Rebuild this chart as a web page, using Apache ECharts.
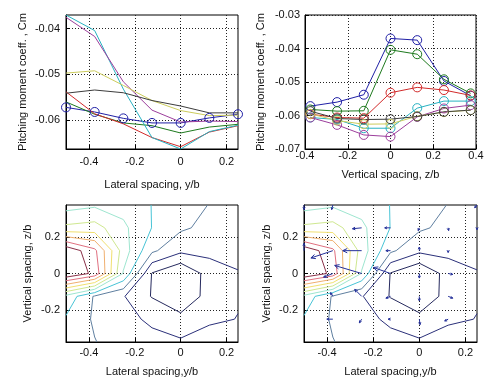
<!DOCTYPE html>
<html>
<head>
<meta charset="utf-8">
<script src="https://cdn.jsdelivr.net/npm/echarts@6/dist/echarts.min.js"></script>
<style>
  html, body { margin: 0; padding: 0; background: #fff; }
  #chart { width: 485px; height: 378px; }
</style>
</head>
<body>
<div id="chart"></div>
<script>
// measurement grid
const lateral = [-0.5, -0.375, -0.25, -0.125, 0, 0.125, 0.25];   // y/b
const vertical = [-0.375, -0.25, -0.125, 0, 0.125, 0.25, 0.375]; // z/b

// Cm at each lateral station, one value per vertical station
const cmYm500 = [-0.0572, -0.0560, -0.0538, -0.0370, -0.0375, -0.0497, -0.0541];
const cmYm375 = [-0.0582, -0.0587, -0.0586, -0.0404, -0.0417, -0.0492, -0.0534];
const cmYm250 = [-0.0596, -0.0606, -0.0608, -0.0532, -0.0516, -0.0524, -0.0540];
const cmYm125 = [-0.0606, -0.0612, -0.0638, -0.0638, -0.0578, -0.0557, -0.0557];
const cmY000 = [-0.0606, -0.0628, -0.0658, -0.0663, -0.0604, -0.0579, -0.0569];
const cmYp125 = [-0.0595, -0.0615, -0.0626, -0.0625, -0.0602, -0.0590, -0.0584];
const cmYp250 = [-0.0587, -0.0609, -0.0612, -0.0611, -0.0603, -0.0589, -0.0584];
const cmGrid = [cmYm500, cmYm375, cmYm250, cmYm125, cmY000, cmYp125, cmYp250];

// quiver: [y, z, dy, dz]
const quiverVectors = [
  [-0.5, 0.375, 0, -0.025], [-0.375, 0.375, -0.005, -0.025],
  [-0.5, 0.125, 0, 0.04], [-0.375, 0.125, -0.095, -0.04],
  [-0.25, 0.25, -0.04, -0.005], [-0.25, 0.125, -0.082, 0],
  [-0.375, 0, -0.04, -0.02], [-0.25, 0, -0.117, 0.044],
  [-0.125, 0, -0.074, 0.033], [-0.25, -0.125, -0.03, 0.038],
  [-0.375, -0.125, -0.01, 0.02], [-0.375, -0.25, -0.026, 0],
  [-0.25, -0.25, -0.01, -0.02], [-0.125, 0.25, -0.025, 0],
  [-0.125, 0.125, -0.02, 0], [-0.125, -0.125, -0.02, -0.01],
  [-0.125, -0.25, -0.01, 0], [0, 0.25, -0.005, -0.015],
  [0, 0.125, 0, 0.02], [0, 0, 0, -0.025],
  [0, -0.125, 0, -0.025], [0, -0.25, 0.003, -0.03],
  [0.125, 0.25, 0.002, -0.015], [0.125, 0.125, 0, -0.01],
  [0.125, 0, 0.02, -0.005], [0.125, -0.125, 0.02, -0.01],
  [0.125, -0.25, -0.015, -0.01], [0.25, 0.375, -0.01, -0.015],
  [0.25, 0.25, 0, -0.01]
];

const lineColors = ['#2020a6', '#1e7a1e', '#d22a2a', '#28b2c2', '#9c3e9c', '#cccc5c', '#3c3c3c'];
const contourColors = ['#262a5e', '#2b307a', '#5f7fa0', '#48c4d6', '#9ee6d0',
                       '#cfe890', '#f2e070', '#f0b070', '#e07080', '#8a3048'];
const arrowColor = '#24309a';

const latTicks = [-0.4, -0.2, 0, 0.2];
const vertTicksTop = [-0.4, -0.2, 0, 0.2, 0.4];
const vertTicksBottom = [-0.2, 0, 0.2];
const cmTicksLeft = [-0.06, -0.05, -0.04];
const cmTicksRight = [-0.07, -0.06, -0.05, -0.04, -0.03];

const FONT = 'Liberation Sans, Arial, sans-serif';
const allCm = cmGrid.flat();
const cmMin = Math.min(...allCm);
const cmMax = Math.max(...allCm);
// matlab default: 10 levels spread between min and max
const levels = contourColors.map((_, k) => cmMin + (k + 1) * (cmMax - cmMin) / 11);

function contourSegments(level) {
  const segs = [];
  for (let i = 0; i < lateral.length - 1; i++) {
    for (let j = 0; j < vertical.length - 1; j++) {
      const corners = [[i, j], [i + 1, j], [i + 1, j + 1], [i, j + 1]];
      const vals = corners.map(([a, b]) => cmGrid[a][b]);
      const pts = [];
      for (let e = 0; e < 4; e++) {
        const p = corners[e], q = corners[(e + 1) % 4];
        const vp = vals[e], vq = vals[(e + 1) % 4];
        if ((vp > level) !== (vq > level)) {
          const t = (level - vp) / (vq - vp);
          pts.push([
            lateral[p[0]] + t * (lateral[q[0]] - lateral[p[0]]),
            vertical[p[1]] + t * (vertical[q[1]] - vertical[p[1]])
          ]);
        }
      }
      if (pts.length === 2) {
        segs.push([pts[0], pts[1]]);
      } else if (pts.length === 4) {
        const centre = vals.reduce((s, v) => s + v, 0) / 4;
        if ((centre > level) === (vals[0] > level)) {
          segs.push([pts[0], pts[1]], [pts[2], pts[3]]);
        } else {
          segs.push([pts[0], pts[3]], [pts[1], pts[2]]);
        }
      }
    }
  }
  return segs;
}

const fmt = (v) => String(+v.toFixed(3));

function axis(gridIndex, min, max, ticks, name, o) {
  return {
    type: 'value',
    gridIndex,
    min,
    max,
    name,
    nameLocation: 'middle',
    nameGap: o.nameGap,
    nameTextStyle: { fontFamily: FONT, fontSize: 11, color: '#111' },
    axisLine: { show: true, onZero: false, lineStyle: { color: '#000', width: 1 } },
    axisTick: { show: true, inside: true, length: 4, customValues: ticks, lineStyle: { color: '#000' } },
    axisLabel: {
      customValues: ticks,
      margin: o.margin,
      fontFamily: FONT,
      fontSize: 11,
      color: '#111',
      showMinLabel: true,
      showMaxLabel: true,
      formatter: fmt
    },
    splitLine: { show: true, lineStyle: { color: '#222', width: 1, type: [1, 2] } }
  };
}

const grids = [
  { left: 66, top: 15, width: 172, height: 134 },
  { left: 305, top: 15, width: 171, height: 134 },
  { left: 66, top: 205, width: 172, height: 137 },
  { left: 304, top: 205, width: 173, height: 137 }
].map((g) => Object.assign(g, {
  show: true, borderColor: '#000', borderWidth: 1, backgroundColor: '#fff',
  containLabel: false, outerBoundsMode: 'none'
}));

const xAxes = [
  axis(0, -0.5, 0.25, latTicks, 'Lateral spacing, y/b', { nameGap: 30, margin: 7 }),
  axis(1, -0.4, 0.4, vertTicksTop, 'Vertical spacing, z/b', { nameGap: 20, margin: 1 }),
  axis(2, -0.5, 0.25, latTicks, 'Lateral spacing,y/b', { nameGap: 24, margin: 5 }),
  axis(3, -0.5, 0.25, latTicks, 'Lateral spacing,y/b', { nameGap: 24, margin: 5 })
];
const yAxes = [
  axis(0, cmMin, cmMax, cmTicksLeft, 'Pitching moment coeff. , Cm', { nameGap: 38, margin: 6 }),
  axis(1, -0.07, -0.03, cmTicksRight, 'Pitching moment coeff. , Cm', { nameGap: 39, margin: 5 }),
  axis(2, -0.375, 0.375, vertTicksBottom, 'Vertical spacing, z/b', { nameGap: 33, margin: 6 }),
  axis(3, -0.375, 0.375, vertTicksBottom, 'Vertical spacing, z/b', { nameGap: 32, margin: 6 })
];

const series = [];

function circleStyle(color) {
  return { color: 'rgba(255,255,255,0)', borderColor: color, borderWidth: 1 };
}

// Cm vs lateral spacing, one line per vertical station
vertical.forEach((z, j) => {
  series.push({
    type: 'line',
    xAxisIndex: 0,
    yAxisIndex: 0,
    data: lateral.map((y, i) => [y, cmGrid[i][j]]),
    symbol: j === 0 ? 'circle' : 'none',
    symbolSize: 9,
    showSymbol: j === 0,
    itemStyle: circleStyle(lineColors[j]),
    lineStyle: { color: lineColors[j], width: 1 },
    silent: true
  });
});

// Cm vs vertical spacing, one line per lateral station
lateral.forEach((y, i) => {
  series.push({
    type: 'line',
    xAxisIndex: 1,
    yAxisIndex: 1,
    data: vertical.map((z, j) => [z, cmGrid[i][j]]),
    symbol: 'circle',
    symbolSize: 9,
    itemStyle: circleStyle(lineColors[i]),
    lineStyle: { color: lineColors[i], width: 1 },
    silent: true
  });
});

// contours in both bottom panels
[2, 3].forEach((g) => {
  levels.forEach((lev, k) => {
    series.push({
      type: 'lines',
      coordinateSystem: 'cartesian2d',
      xAxisIndex: g,
      yAxisIndex: g,
      polyline: false,
      silent: true,
      lineStyle: { color: contourColors[k], width: 1, opacity: 1 },
      data: contourSegments(lev).map((s) => ({ coords: s }))
    });
  });
});

// quiver arrows, open heads like matlab
series.push({
  type: 'custom',
  coordinateSystem: 'cartesian2d',
  xAxisIndex: 3,
  yAxisIndex: 3,
  silent: true,
  data: quiverVectors,
  renderItem: (params, api) => {
    const y = api.value(0), z = api.value(1);
    const p0 = api.coord([y, z]);
    const p1 = api.coord([y + api.value(2), z + api.value(3)]);
    const dx = p1[0] - p0[0], dy = p1[1] - p0[1];
    const len = Math.sqrt(dx * dx + dy * dy) || 1;
    const head = Math.max(2.5, Math.min(5, len * 0.33));
    const ang = Math.atan2(dy, dx);
    const spread = 0.45;
    const h1 = [p1[0] - head * Math.cos(ang - spread), p1[1] - head * Math.sin(ang - spread)];
    const h2 = [p1[0] - head * Math.cos(ang + spread), p1[1] - head * Math.sin(ang + spread)];
    const style = { stroke: arrowColor, lineWidth: 1, fill: null };
    return {
      type: 'group',
      children: [
        { type: 'line', shape: { x1: p0[0], y1: p0[1], x2: p1[0], y2: p1[1] }, style },
        { type: 'polyline', shape: { points: [h1, p1, h2] }, style }
      ]
    };
  }
});

const chart = echarts.init(document.getElementById('chart'), null, { renderer: 'canvas' });
chart.setOption({
  animation: false,
  backgroundColor: '#fff',
  grid: grids,
  xAxis: xAxes,
  yAxis: yAxes,
  series
});
</script>
</body>
</html>
